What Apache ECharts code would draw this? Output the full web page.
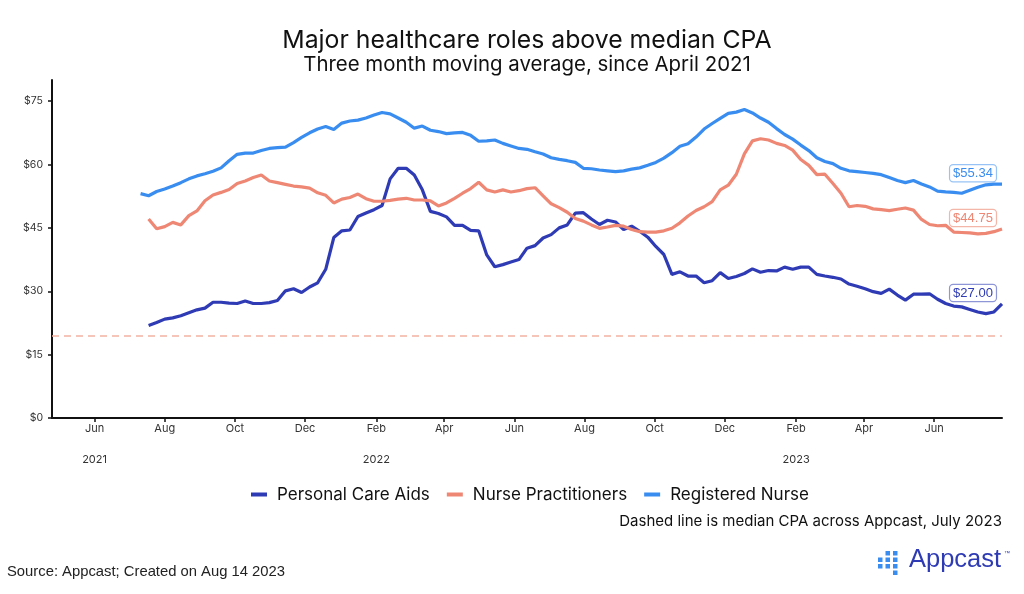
<!DOCTYPE html>
<html><head><meta charset="utf-8">
<script src="https://cdn.jsdelivr.net/npm/echarts@6/dist/echarts.min.js"></script>
<style>html,body{margin:0;padding:0;background:#fff}#c{width:1024px;height:594px}</style>
</head><body><div id="c"></div>
<script>
// ---- data ----
const seriesNames = ['Personal Care Aids', 'Nurse Practitioners', 'Registered Nurse'];
const firstWeek = [2021, 6, 11]; // weekly points from Jul 11 2021 (month 0-based)
const personalCareAids = [null,
 21.9,22.6,23.4,23.7,24.2,24.9,25.6,26.0,27.4,27.4,27.2,27.1,27.7,27.1,27.1,27.3,27.8,30.1,30.6,29.7,
 31.0,32.0,35.2,42.7,44.3,44.5,47.7,48.5,49.3,50.3,56.6,59.1,59.1,57.5,54.0,48.9,48.4,47.6,45.6,45.6,
 44.4,44.3,38.6,35.8,36.3,36.9,37.5,40.2,40.8,42.6,43.4,45.0,45.7,48.5,48.6,47.1,45.8,46.8,46.4,44.6,
 45.4,44.2,42.8,40.6,38.7,34.0,34.6,33.6,33.6,32.0,32.5,34.4,33.0,33.5,34.2,35.3,34.5,34.9,34.8,35.7,
 35.2,35.7,35.7,34.0,33.6,33.3,32.9,31.7,31.2,30.6,29.9,29.5,30.5,29.1,27.9,29.3,29.3,29.4,28.1,27.1,
 26.5,26.3,25.7,25.1,24.7,25.1,27.0];
const nursePractitioners = [null,
 47.1,44.8,45.3,46.3,45.7,47.9,49.0,51.4,52.8,53.4,54.1,55.5,56.1,56.9,57.5,56.1,55.7,55.3,54.9,54.7,
 54.4,53.3,52.7,50.9,51.8,52.2,53.0,51.9,51.3,51.3,51.5,51.8,52.0,51.6,51.6,51.4,50.2,50.9,52.0,53.2,
 54.3,55.8,54.0,53.5,54.0,53.5,53.8,54.3,54.5,52.6,50.7,49.8,48.7,47.2,46.6,45.7,44.9,45.2,45.6,45.4,
 44.6,44.1,44.0,44.0,44.3,44.9,46.2,47.8,49.1,50.0,51.2,54.0,55.1,57.7,62.5,65.6,66.1,65.8,65.0,64.5,
 63.4,61.2,59.8,57.6,57.7,55.5,53.2,50.0,50.3,50.1,49.5,49.3,49.1,49.4,49.7,49.2,47.0,45.8,45.5,45.6,
 44.0,43.9,43.8,43.6,43.7,44.1,44.75];
const registeredNurse = [
 53.1,52.6,53.6,54.2,54.9,55.7,56.6,57.3,57.8,58.4,59.2,60.9,62.4,62.7,62.7,63.3,63.8,64.0,64.1,65.2,
 66.4,67.5,68.4,69.0,68.3,69.8,70.3,70.5,71.0,71.7,72.3,72.0,71.0,70.0,68.6,69.1,68.1,67.8,67.3,67.5,
 67.6,66.9,65.5,65.6,65.8,65.0,64.4,63.8,63.6,63.0,62.5,61.6,61.2,60.9,60.5,59.1,59.0,58.7,58.5,58.3,
 58.5,58.9,59.2,59.8,60.5,61.5,62.8,64.3,64.9,66.5,68.4,69.7,70.9,72.1,72.4,73.0,72.2,71.0,70.0,68.5,
 67.1,66.0,64.6,63.3,61.6,60.7,60.2,59.1,58.5,58.3,58.1,57.9,57.6,56.9,56.2,55.7,56.2,55.4,54.7,53.7,
 53.5,53.4,53.2,53.9,54.6,55.2,55.35,55.34];
const medianCPA = 19.5;
const yTicks = [0, 15, 30, 45, 60, 75];
const monthNames = ['Jan','Feb','Mar','Apr','May','Jun','Jul','Aug','Sep','Oct','Nov','Dec'];
const xTickMonths = [[2021,5],[2021,7],[2021,9],[2021,11],[2022,1],[2022,3],[2022,5],[2022,7],[2022,9],[2022,11],[2023,1],[2023,3],[2023,5]];
const yearLabelMonths = [[2021,5],[2022,1],[2023,1]];
const xRange = [[2021,3,25],[2023,6,30]];
const titleText = 'Major healthcare roles above median CPA';
const subtitleText = 'Three month moving average, since April 2021';
const noteText = 'Dashed line is median CPA across Appcast, July 2023';
const sourceText = 'Source: Appcast; Created on Aug 14 2023';

// ---- build ----
const colors = ['#2E3BB4', '#EE8774', '#3A8DF0'];
const labelBorders = ['#8E96D8', '#F3B6A9', '#98C3F6'];
function weekTime(i) { return new Date(firstWeek[0], firstWeek[1], firstWeek[2] + 7 * i).getTime(); }
function toPairs(arr) { const out = []; arr.forEach((v, i) => { if (v !== null) out.push([weekTime(i), v]); }); return out; }
const allData = [personalCareAids, nursePractitioners, registeredNurse];
const xTicks = xTickMonths.map(m => new Date(m[0], m[1], 1).getTime());
const yearTicks = yearLabelMonths.map(m => new Date(m[0], m[1], 1).getTime());

const series = allData.map((arr, k) => {
  const pairs = toPairs(arr);
  const last = pairs[pairs.length - 1];
  const s = {
    name: seriesNames[k], type: 'line', data: pairs, showSymbol: false, symbol: 'none',
    lineStyle: { color: colors[k], width: 3.2 }, itemStyle: { color: colors[k] },
    emphasis: { disabled: true }, z: 3 + k,
    markPoint: {
      symbol: 'circle', symbolSize: 0, silent: true,
      data: [{ coord: last, value: last[1] }],
      label: {
        show: true, position: 'inside', offset: [-29, -11],
        formatter: p => '$' + Number(p.value).toFixed(2),
        color: colors[k], fontFamily: 'Liberation Sans', fontSize: 13,
        backgroundColor: '#fff', borderColor: labelBorders[k], borderWidth: 1.2,
        borderRadius: 3, padding: [2, 3, 1, 3]
      }
    }
  };
  if (k === 0) {
    s.markLine = {
      silent: true, symbol: 'none', label: { show: false },
      lineStyle: { color: '#F4B3A2', type: [7, 5], width: 1.5 },
      data: [{ yAxis: medianCPA }]
    };
  }
  return s;
});

const chart = echarts.init(document.getElementById('c'));
chart.setOption({
  animation: false,
  backgroundColor: '#fff',
  color: colors,
  legend: {
    top: 486, left: 251, icon: 'rect', itemWidth: 16, itemHeight: 4, itemGap: 17, padding: 0,
    textStyle: { fontFamily: 'Inter', fontSize: 17, color: '#111', padding: [0, 0, 0, 5] },
    data: seriesNames
  },
  grid: { left: 52, right: 22, top: 80, bottom: 176, containLabel: false },
  xAxis: {
    type: 'value',
    min: new Date(...xRange[0]).getTime(), max: new Date(...xRange[1]).getTime(),
    axisLine: { show: true, lineStyle: { color: '#111', width: 2 } },
    axisTick: { show: true, customValues: xTicks, length: 4, lineStyle: { color: '#111', width: 1.5 } },
    axisLabel: {
      customValues: xTicks, margin: 3, lineHeight: 15.5,
      fontFamily: 'Inter', fontSize: 11, color: '#333',
      formatter: v => {
        const d = new Date(v);
        const m = monthNames[d.getMonth()];
        return yearTicks.includes(v) ? m + '\n\n' + d.getFullYear() : m;
      }
    },
    splitLine: { show: false }
  },
  yAxis: {
    type: 'value', min: 0, max: 80,
    axisLine: { show: true, lineStyle: { color: '#111', width: 2 } },
    axisTick: { show: true, customValues: yTicks, length: 4, lineStyle: { color: '#111', width: 1.5 } },
    axisLabel: { customValues: yTicks, margin: 9, fontFamily: 'Inter', fontSize: 10.5, color: '#333',
      formatter: v => '$' + v },
    splitLine: { show: false }
  },
  series: series,
  graphic: [
    { type: 'text', x: 527, y: 41,
      style: { text: titleText, font: '24.8px Inter', fill: '#111', textAlign: 'center', textVerticalAlign: 'middle' } },
    { type: 'text', x: 527, y: 65,
      style: { text: subtitleText, font: '20.4px Inter', fill: '#111', textAlign: 'center', textVerticalAlign: 'middle' } },
    { type: 'text', right: 22, top: 514,
      style: { text: noteText, font: '15px Inter', fill: '#111' } },
    { type: 'text', left: 7, top: 564,
      style: { text: sourceText, font: '14.8px "Liberation Sans"', fill: '#222' } },
    { type: 'group', left: 878, top: 551, children: [
      { type: 'rect', shape: { x: 0, y: 6.5, width: 4.5, height: 4.5 }, style: { fill: '#3A8DF0' } },
      { type: 'rect', shape: { x: 0, y: 13, width: 4.5, height: 4.5 }, style: { fill: '#3A8DF0' } },
      { type: 'rect', shape: { x: 7.5, y: 0, width: 4.5, height: 4.5 }, style: { fill: '#3A8DF0' } },
      { type: 'rect', shape: { x: 7.5, y: 6.5, width: 4.5, height: 4.5 }, style: { fill: '#3A8DF0' } },
      { type: 'rect', shape: { x: 7.5, y: 13, width: 4.5, height: 4.5 }, style: { fill: '#3A8DF0' } },
      { type: 'rect', shape: { x: 15, y: 0, width: 4.5, height: 4.5 }, style: { fill: '#3A8DF0' } },
      { type: 'rect', shape: { x: 15, y: 6.5, width: 4.5, height: 4.5 }, style: { fill: '#3A8DF0' } },
      { type: 'rect', shape: { x: 15, y: 13, width: 4.5, height: 4.5 }, style: { fill: '#3A8DF0' } },
      { type: 'rect', shape: { x: 15, y: 19.5, width: 4.5, height: 4.5 }, style: { fill: '#3A8DF0' } }
    ] },
    { type: 'text', left: 909, top: 547,
      style: { text: 'Appcast', font: '25.5px "Liberation Sans"', fill: '#2E3BB4' } },
    { type: 'text', left: 1004, top: 550,
      style: { text: '™', font: '6px "Liberation Sans"', fill: '#2E3BB4' } }
  ]
});
</script>
</body></html>
